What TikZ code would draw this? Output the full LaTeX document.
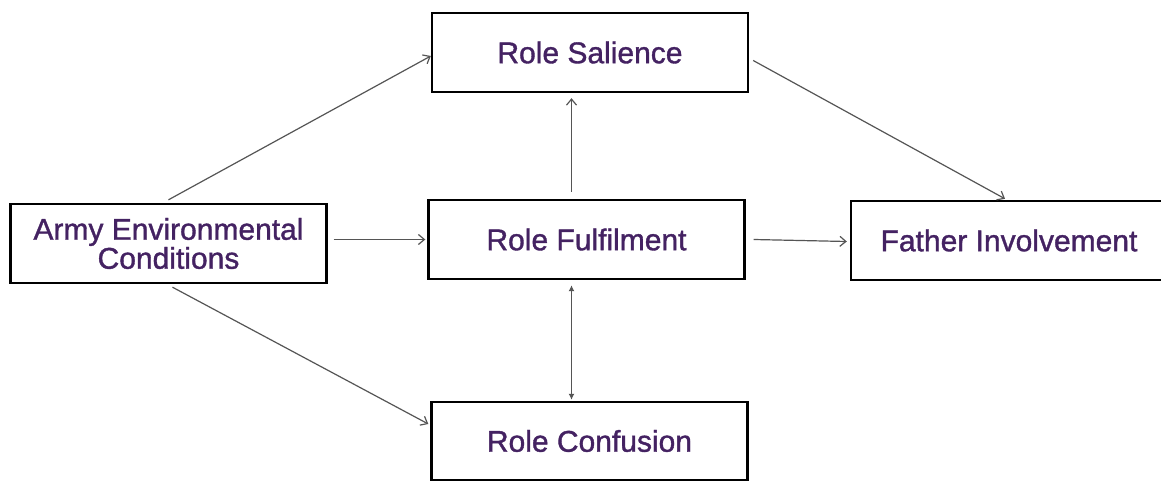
\documentclass[tikz,border=0pt]{standalone}
\usepackage{fontspec}
\setmainfont{Liberation Sans}
\newfontfamily\boxfont{Liberation Sans}[FakeBold=1.2]
\usetikzlibrary{arrows.meta}
\definecolor{txtpurple}{RGB}{68,34,98}
\definecolor{linegray}{RGB}{85,85,85}
\begin{document}
\begin{tikzpicture}[x=1pt,y=-1pt,
  box/.style={draw=black,line width=2.4pt,rectangle,minimum width=316pt,minimum height=79pt,inner sep=0pt,
    text=txtpurple,font=\boxfont\fontsize{30}{29}\selectfont,align=center},
  conn/.style={draw=linegray,line width=1.2pt,-{Straight Barb[length=6pt,width=10pt]}},
  both/.style={draw=linegray,line width=1.2pt,{Latex[length=6pt,width=6pt]}-{Latex[length=6pt,width=6pt]}}]
\useasboundingbox (0,0) rectangle (1161,481);
\clip (0,0) rectangle (1161,481);
\fill[white] (0,0) rectangle (1161,481);
\node[box] (army) at (168.5,243.5) {Army Environmental\\Conditions};
\node[box] (sal) at (590,52.5) {Role Salience};
\node[box] (ful) at (586.5,239.5) {Role Fulfilment};
\node[box,minimum height=78pt] (conf) at (589.5,441) {Role Confusion};
\node[box] (fat) at (1009,240.5) {Father Involvement};
\draw[conn] ([yshift=3pt]army.north) -- ([yshift=-3.5pt]sal.west);
\draw[conn] ([xshift=6pt]army.east |- ful.west) -- ([xshift=-2pt]ful.west);
\draw[conn] ([xshift=4pt,yshift=-3pt]army.south) -- ([yshift=17pt,xshift=-2pt]conf.west);
\draw[conn] ([xshift=-15pt,yshift=7pt]ful.north) -- ([xshift=-15pt,yshift=-5pt]ful.north |- sal.south);
\draw[conn] ([xshift=4pt,yshift=-8pt]sal.east) -- ([xshift=-4pt,yshift=1pt]fat.north);
\draw[conn] ([xshift=8pt]ful.east) -- ([xshift=-3pt,yshift=-1pt]fat.west);
\draw[both] ([xshift=-15pt,yshift=-5pt]ful.south) -- ([xshift=-18pt,yshift=1pt]conf.north);
\end{tikzpicture}
\end{document}
